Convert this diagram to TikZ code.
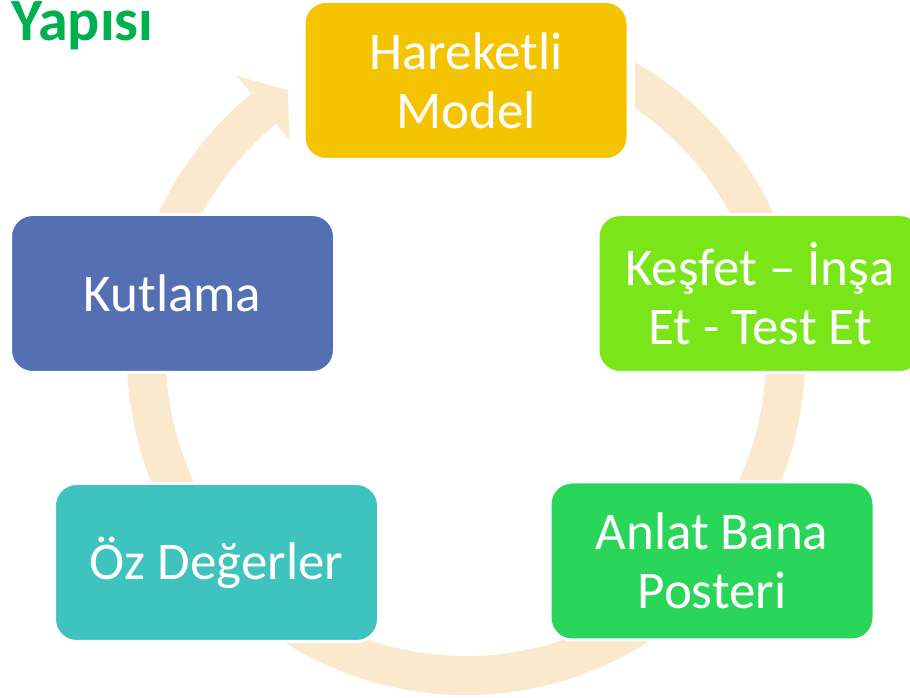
\documentclass[tikz,border=0pt]{standalone}
\usepackage{fontspec}
\setmainfont{Carlito}
\usepackage{tikz}

\definecolor{gold}{HTML}{F5C400}
\definecolor{lime}{HTML}{7AE61A}
\definecolor{slate}{HTML}{5470B3}
\definecolor{teal}{HTML}{3FC3BF}
\definecolor{grass}{HTML}{2AD65A}
\definecolor{ringc}{HTML}{FAE9CD}
\definecolor{titlec}{HTML}{00B050}

\begin{document}
\begin{tikzpicture}[x=1pt,y=1pt,
	box/.style={rectangle,rounded corners=22pt,draw=white,line width=3pt,
		minimum width=324pt,minimum height=158pt,align=center,text=white,
		font=\fontsize{53}{59}\selectfont}]
	\useasboundingbox (0,0) rectangle (910,698);

	% title
	\node [anchor=base west,inner sep=0pt,text=titlec,font=\fontsize{60}{62}\selectfont\bfseries] (title) at (11,657) {Yapısı};

	% ring with arrow head
	\begin{scope}
		\clip (0,0) -- (910,0) -- (910,698) -- (635,698) -- (635,498) -- (300,498) -- (300,698) -- (0,698) -- cycle;
		\begin{scope}[shift={(466,342)}]
			\draw [ringc,line width=39pt] (70:319.5) arc [start angle=70,end angle=-230.7,radius=319.5];
			\fill [ringc] (129.3:362) -- (123.8:320) -- (129.3:279) -- cycle;
		\end{scope}
	\end{scope}

	% steps
	\node [box,fill=gold] (model) at (466,617.5) {Hareketli\\Model};
	\node [box,fill=lime] (kesfet) at (760,404.5) {Keşfet – İnşa\\Et - Test Et};
	\node [box,fill=grass] (anlat) at (712,137) {Anlat Bana\\Posteri};
	\node [box,fill=teal] (oz) at (216.5,135.5) {Öz Değerler};
	\node [box,fill=slate] (kutlama) at (172.5,404.5) {Kutlama};
\end{tikzpicture}
\end{document}
